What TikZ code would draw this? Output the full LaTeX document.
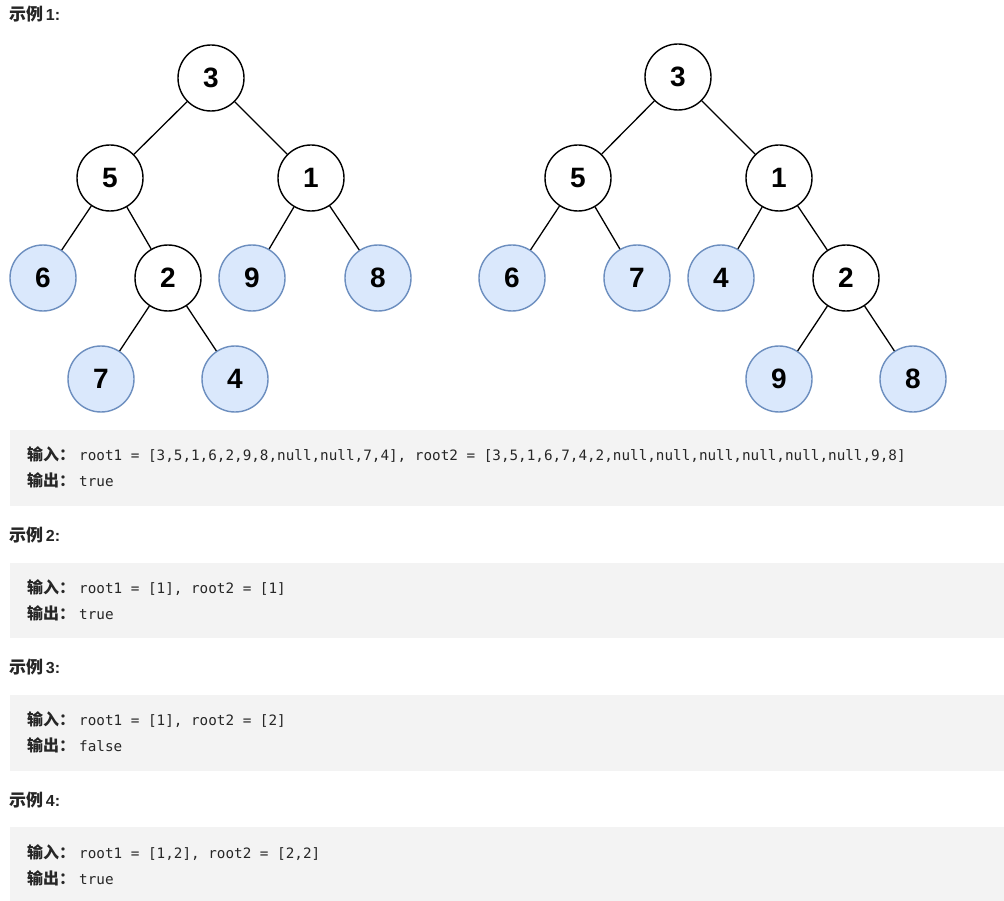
\documentclass[tikz,border=0pt]{standalone}
\usepackage{fontspec}
\setmainfont{Liberation Sans}
\newfontfamily\cjk{Noto Sans CJK SC}
\newfontfamily\codefont{DejaVu Sans Mono}
\definecolor{boxbg}{HTML}{F3F3F3}
\definecolor{leaffill}{HTML}{DAE8FC}
\definecolor{leafdraw}{HTML}{6C8EBF}
\definecolor{txt}{HTML}{262626}
\tikzset{
  tn/.style={circle, draw=black, fill=white, line width=1.4pt, minimum size=66pt, inner sep=0pt, font=\fontsize{28}{28}\selectfont\bfseries},
  leaf/.style={tn, draw=leafdraw, fill=leaffill},
  edge/.style={line width=1.3pt, draw=black},
  heading/.style={anchor=base west, inner sep=0pt, text=txt},
  lbl/.style={anchor=base west, inner sep=0pt, text=txt, font=\cjk\bfseries\fontsize{16}{16}\selectfont},
  code/.style={anchor=base west, inner sep=0pt, text=txt, font=\codefont\fontsize{14.3}{14.3}\selectfont},
  panel/.style={fill=boxbg, draw=none}
}
\newcommand{\headtext}[1]{{\cjk\bfseries\fontsize{17}{17}\selectfont 示例} {\bfseries\fontsize{16}{16}\selectfont #1:}}
\begin{document}
\begin{tikzpicture}[x=1pt,y=-1pt]
\useasboundingbox (0,0) rectangle (1004,901);
\fill[white] (0,0) rectangle (1004,901);

% headings
\node[heading] (h1) at (9,21) {\headtext{1}};
\node[heading] (h2) at (9,541) {\headtext{2}};
\node[heading] (h3) at (9,673) {\headtext{3}};
\node[heading] (h4) at (9,806) {\headtext{4}};

% tree 1
\node[tn]   (a3) at (211,78) {3};
\node[tn]   (a5) at (110,178) {5};
\node[tn]   (a1) at (311,178) {1};
\node[leaf] (a6) at (43,278) {6};
\node[tn]   (a2) at (168,278) {2};
\node[leaf] (a9) at (252,278) {9};
\node[leaf] (a8) at (378,278) {8};
\node[leaf] (a7) at (101,379) {7};
\node[leaf] (a4) at (235,379) {4};
\draw[edge] (a3) -- (a5);
\draw[edge] (a3) -- (a1);
\draw[edge] (a5) -- (a6);
\draw[edge] (a5) -- (a2);
\draw[edge] (a1) -- (a9);
\draw[edge] (a1) -- (a8);
\draw[edge] (a2) -- (a7);
\draw[edge] (a2) -- (a4);

% tree 2
\node[tn]   (b3) at (678,77) {3};
\node[tn]   (b5) at (578,178) {5};
\node[tn]   (b1) at (779,178) {1};
\node[leaf] (b6) at (512,278) {6};
\node[leaf] (b7) at (637,278) {7};
\node[leaf] (b4) at (721,278) {4};
\node[tn]   (b2) at (846,278) {2};
\node[leaf] (b9) at (779,379) {9};
\node[leaf] (b8) at (913,379) {8};
\draw[edge] (b3) -- (b5);
\draw[edge] (b3) -- (b1);
\draw[edge] (b5) -- (b6);
\draw[edge] (b5) -- (b7);
\draw[edge] (b1) -- (b4);
\draw[edge] (b1) -- (b2);
\draw[edge] (b2) -- (b9);
\draw[edge] (b2) -- (b8);

% panels
\fill[panel] (10,430) rectangle (1004,506);
\fill[panel] (10,563) rectangle (1004,638);
\fill[panel] (10,695) rectangle (1004,771);
\fill[panel] (10,827) rectangle (1004,901);

% example 1
\node[lbl]  (i1) at (27,460) {输入：};
\node[code] (c1) at (79,460) {root1 = [3,5,1,6,2,9,8,null,null,7,4], root2 = [3,5,1,6,7,4,2,null,null,null,null,null,null,9,8]};
\node[lbl]  (o1) at (27,486) {输出：};
\node[code] (r1) at (79,486) {true};

% example 2
\node[lbl]  (i2) at (27,593) {输入：};
\node[code] (c2) at (79,593) {root1 = [1], root2 = [1]};
\node[lbl]  (o2) at (27,619) {输出：};
\node[code] (r2) at (79,619) {true};

% example 3
\node[lbl]  (i3) at (27,725) {输入：};
\node[code] (c3) at (79,725) {root1 = [1], root2 = [2]};
\node[lbl]  (o3) at (27,751) {输出：};
\node[code] (r3) at (79,751) {false};

% example 4
\node[lbl]  (i4) at (27,858) {输入：};
\node[code] (c4) at (79,858) {root1 = [1,2], root2 = [2,2]};
\node[lbl]  (o4) at (27,884) {输出：};
\node[code] (r4) at (79,884) {true};
\end{tikzpicture}
\end{document}
